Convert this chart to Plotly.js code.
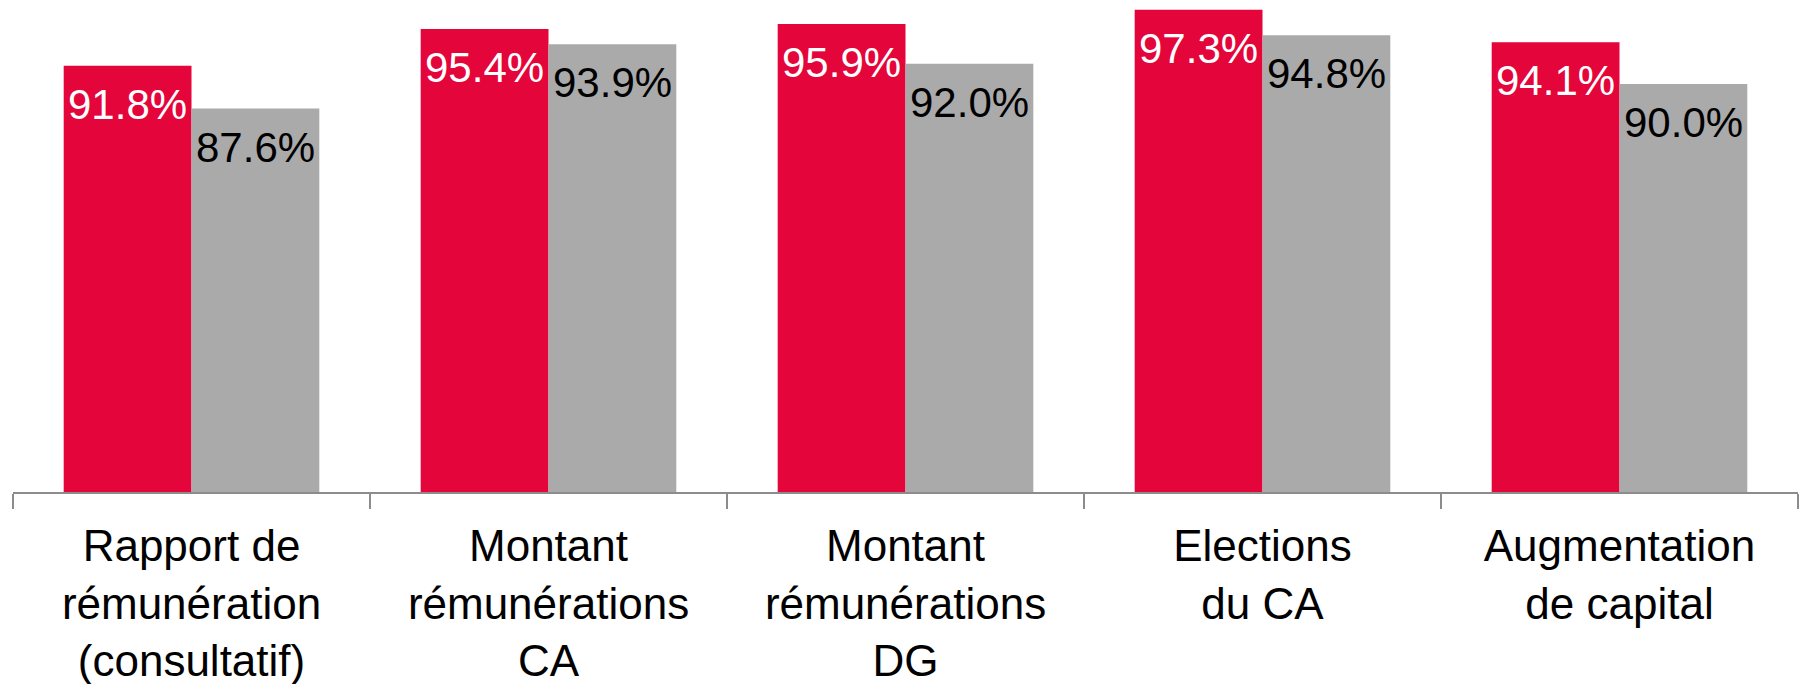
<!DOCTYPE html>
<html>
<head>
<meta charset="utf-8">
<script src="https://cdn.plot.ly/plotly-3.0.1.min.js"></script>
<style>html,body{margin:0;padding:0;background:#fff;}#chart{width:1806px;height:684px;}</style>
</head>
<body>
<div id="chart"></div>
<script>
const categories = [
  "Rapport de<br>rémunération<br>(consultatif)",
  "Montant<br>rémunérations<br>CA",
  "Montant<br>rémunérations<br>DG",
  "Elections<br>du CA",
  "Augmentation<br>de capital"
];
const seriesRed = [91.8, 95.4, 95.9, 97.3, 94.1];
const seriesGray = [87.6, 93.9, 92.0, 94.8, 90.0];

const RED = "#E4053A";
const GRAY = "#AAAAAA";
const FONT = "Liberation Sans, Arial, sans-serif";
const BARGAP = 0.284;
const half = (1 - BARGAP) / 4;

const traces = [
  {type: "bar", x: categories, y: seriesRed, marker: {color: RED}, hoverinfo: "none"},
  {type: "bar", x: categories, y: seriesGray, marker: {color: GRAY}, hoverinfo: "none"}
];

const annotations = [];
categories.forEach((c, i) => {
  annotations.push({x: i - half, y: seriesRed[i], xref: "x", yref: "y", text: seriesRed[i].toFixed(1) + "%",
    showarrow: false, yanchor: "top", yshift: -13, font: {family: FONT, size: 42, color: "#ffffff"}});
  annotations.push({x: i + half, y: seriesGray[i], xref: "x", yref: "y", text: seriesGray[i].toFixed(1) + "%",
    showarrow: false, yanchor: "top", yshift: -13, font: {family: FONT, size: 42, color: "#000000"}});
});

const layout = {
  width: 1806, height: 684,
  margin: {l: 13, r: 8, t: 0, b: 192},
  paper_bgcolor: "#ffffff", plot_bgcolor: "#ffffff",
  showlegend: false,
  barmode: "group", bargap: BARGAP, bargroupgap: 0,
  xaxis: {
    type: "category",
    range: [-0.5, categories.length - 0.5],
    tickson: "boundaries", ticks: "outside", ticklen: 15, tickwidth: 1.5, tickcolor: "#8C8C8C",
    showline: true, linecolor: "#8C8C8C", linewidth: 1.5,
    showgrid: false, zeroline: false,
    ticklabelstandoff: 15,
    tickfont: {family: FONT, size: 44, color: "#000000"}
  },
  yaxis: {range: [50, 98.25], visible: false, showgrid: false, zeroline: false},
  annotations: annotations
};

Plotly.newPlot("chart", traces, layout, {staticPlot: true});
</script>
</body>
</html>
